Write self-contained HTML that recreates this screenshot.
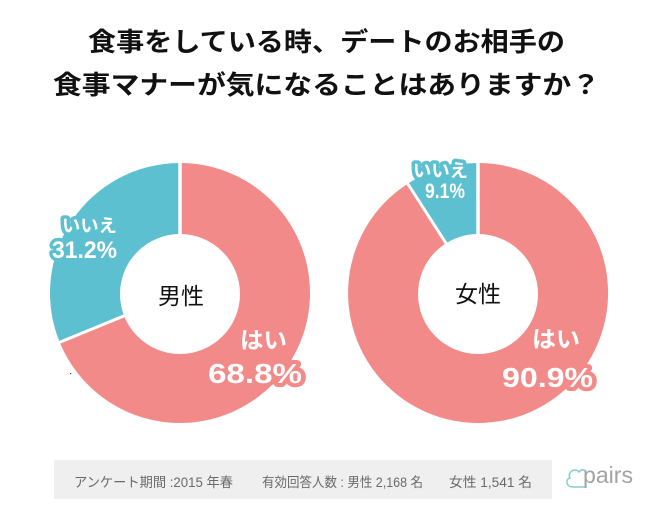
<!DOCTYPE html>
<html>
<head>
<meta charset="utf-8">
<style>
  html, body { margin: 0; padding: 0; background: #ffffff; }
  body { width: 650px; height: 515px; overflow: hidden; }
  svg { display: block; }
  .t { font-family: "Liberation Sans", "Noto Sans CJK JP", sans-serif; }
</style>
</head>
<body>
<svg width="650" height="515" viewBox="0 0 650 515" xmlns="http://www.w3.org/2000/svg">
  <rect x="0" y="0" width="650" height="515" fill="#ffffff"/>

  <!-- Title -->
  <text class="t" x="88" y="51" font-size="26" font-weight="bold" fill="#111" textLength="477" lengthAdjust="spacingAndGlyphs">食事をしている時、デートのお相手の</text>
  <text class="t" x="53" y="94" font-size="26" font-weight="bold" fill="#111" textLength="547" lengthAdjust="spacingAndGlyphs">食事マナーが気になることはありますか？</text>

  <!-- Left donut (男性) -->
  <path d="M180,293 L180,163 A130,130 0 1 1 59.7,342.3 Z" fill="#f38a8a"/>
  <path d="M180,293 L59.7,342.3 A130,130 0 0 1 180,163 Z" fill="#5dc0d0"/>
  <line x1="180" y1="293" x2="180" y2="160" stroke="#ffffff" stroke-width="3.5"/>
  <line x1="180" y1="293" x2="57" y2="343.4" stroke="#ffffff" stroke-width="3"/>
  <circle cx="180" cy="294" r="60" fill="#ffffff"/>

  <!-- Right donut (女性) -->
  <path d="M478,293 L478,163 A130,130 0 1 1 407.7,183.7 Z" fill="#f38a8a"/>
  <path d="M478,293 L407.7,183.7 A130,130 0 0 1 478,163 Z" fill="#5dc0d0"/>
  <line x1="478" y1="293" x2="478" y2="160" stroke="#ffffff" stroke-width="3.5"/>
  <line x1="478" y1="293" x2="406" y2="181" stroke="#ffffff" stroke-width="3"/>
  <circle cx="478" cy="294" r="60" fill="#ffffff"/>

  <!-- Center labels -->
  <text class="t" x="181" y="304" font-size="23" fill="#111" text-anchor="middle">男性</text>
  <text class="t" x="478" y="302" font-size="23" fill="#111" text-anchor="middle">女性</text>

  <!-- Left labels -->
  <g class="t" font-weight="bold" fill="#ffffff" stroke-linejoin="round" style="paint-order: stroke fill;">
    <text x="62" y="232" font-size="18" stroke="#5dc0d0" stroke-width="7" textLength="55" lengthAdjust="spacingAndGlyphs">いいえ</text>
    <text x="52" y="258" font-size="24" stroke="#5dc0d0" stroke-width="7" textLength="65" lengthAdjust="spacingAndGlyphs">31.2%</text>
    <text x="240" y="348" font-size="23" stroke="#f38a8a" stroke-width="7" textLength="47" lengthAdjust="spacingAndGlyphs">はい</text>
    <text x="208" y="383" font-size="28" stroke="#f38a8a" stroke-width="8" textLength="94" lengthAdjust="spacingAndGlyphs">68.8%</text>
  </g>

  <!-- Right labels -->
  <g class="t" font-weight="bold" fill="#ffffff" stroke-linejoin="round" style="paint-order: stroke fill;">
    <text x="413" y="177" font-size="18" stroke="#5dc0d0" stroke-width="7" textLength="55" lengthAdjust="spacingAndGlyphs">いいえ</text>
    <text x="425" y="198" font-size="21" stroke="#5dc0d0" stroke-width="7" textLength="40" lengthAdjust="spacingAndGlyphs">9.1%</text>
    <text x="532" y="347" font-size="23" stroke="#f38a8a" stroke-width="7" textLength="48" lengthAdjust="spacingAndGlyphs">はい</text>
    <text x="502" y="387" font-size="28" stroke="#f38a8a" stroke-width="8" textLength="91" lengthAdjust="spacingAndGlyphs">90.9%</text>
  </g>

  <!-- stray dot -->
  <rect x="70" y="373" width="1.2" height="1.2" fill="#333"/>

  <!-- Footer -->
  <rect x="54" y="460" width="498" height="39" fill="#efefef"/>
  <g class="t" font-size="13.5" fill="#6a6a6a">
    <text x="74" y="487" textLength="159" lengthAdjust="spacingAndGlyphs">アンケート期間 :2015 年春</text>
    <text x="262" y="487" textLength="161" lengthAdjust="spacingAndGlyphs">有効回答人数 : 男性 2,168 名</text>
    <text x="449" y="487" textLength="83" lengthAdjust="spacingAndGlyphs">女性 1,541 名</text>
  </g>

  <!-- pairs logo -->
  <path d="M584,487 L573,487 C566,487 565,479 570,478 C567,472 575,467 579,472 C582,468 587,470 586,475" fill="none" stroke="#7fcfd3" stroke-width="1.5" stroke-linecap="round"/>
  <text class="t" x="583" y="483" font-size="23" fill="#a3a3a3" textLength="50" lengthAdjust="spacingAndGlyphs">pairs</text>
</svg>
</body>
</html>
